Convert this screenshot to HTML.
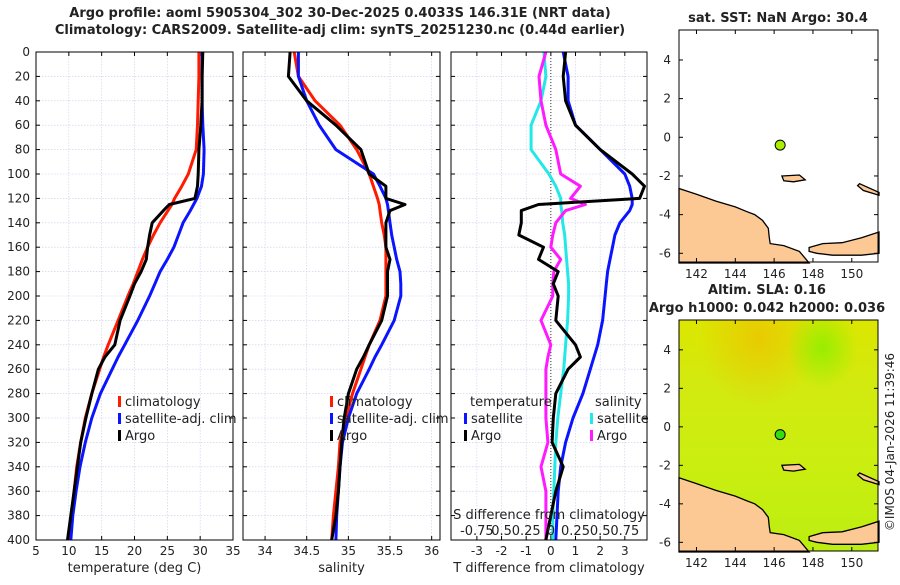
<!DOCTYPE html>
<html><head><meta charset="utf-8"><style>
body{margin:0;background:#fff;}
svg text{font-family:"DejaVu Sans","Liberation Sans",sans-serif;fill:#222;}
</style></head><body>
<svg id="c" width="900" height="580" viewBox="0 0 900 580" xmlns="http://www.w3.org/2000/svg">
<defs>
<linearGradient id="sla" x1="0" y1="0" x2="0" y2="1">
<stop offset="0" stop-color="#dce600"/><stop offset="0.3" stop-color="#d2ea10"/><stop offset="0.6" stop-color="#cbee10"/><stop offset="1" stop-color="#bcee10"/>
</linearGradient>
<radialGradient id="hot" cx="0.4" cy="0.08" r="0.3"><stop offset="0" stop-color="#f2b800" stop-opacity="0.6"/><stop offset="1" stop-color="#f2b800" stop-opacity="0"/></radialGradient>
<radialGradient id="grn" cx="0.72" cy="0.12" r="0.18"><stop offset="0" stop-color="#88ee00" stop-opacity="0.8"/><stop offset="1" stop-color="#88ee00" stop-opacity="0"/></radialGradient>
</defs>
<text x="340" y="17" text-anchor="middle" font-size="13" font-weight="bold">Argo profile: aoml 5905304_302 30-Dec-2025 0.4033S 146.31E (NRT data)</text>
<text x="340" y="34" text-anchor="middle" font-size="13" font-weight="bold">Climatology: CARS2009. Satellite-adj clim: synTS_20251230.nc (0.44d earlier)</text>
<g id="plots"></g>
<text x="890" y="442" text-anchor="middle" font-size="12" transform="rotate(-90 890 442)" dy="4">©IMOS 04-Jan-2026 11:39:46</text>
</svg>
<script>
// ---- data ----
const depths = [0,20,40,60,80,100,110,120,125,130,140,150,160,170,180,190,200,220,240,250,260,280,300,320,340,360,380,400];
const tempClim = [29.8,29.8,29.7,29.6,29.4,28.2,27.2,26.1,25.7,25.1,23.9,22.9,22.0,21.2,20.5,19.8,19.0,17.5,16.0,15.3,14.7,13.5,12.5,11.8,11.2,10.8,10.4,10.1];
const tempSat = [30.3,30.3,30.3,30.4,30.6,30.5,30.2,29.5,29.0,28.5,27.4,26.7,26.0,25.0,23.9,23.1,22.3,20.5,18.5,17.5,16.6,14.8,13.5,12.5,11.7,11.1,10.6,10.3];
const tempArgo = [30.4,30.3,30.3,30.1,29.8,29.7,29.6,29.2,25.3,24.4,22.7,22.3,22.0,21.8,21.0,20.0,19.3,17.8,17.0,15.5,14.5,13.5,12.6,11.8,11.3,10.8,10.3,9.8];
const salClim = [34.35,34.4,34.6,34.9,35.1,35.25,35.3,35.35,35.37,35.38,35.4,35.43,35.45,35.45,35.45,35.45,35.45,35.38,35.25,35.2,35.15,35.05,34.97,34.9,34.88,34.85,34.82,34.8];
const salSat = [34.4,34.4,34.5,34.65,34.85,35.3,35.38,35.45,35.47,35.48,35.5,35.52,35.55,35.58,35.62,35.63,35.63,35.55,35.4,35.32,35.25,35.1,35.0,34.93,34.9,34.88,34.86,34.85];
const salArgo = [34.3,34.28,34.5,34.85,35.15,35.25,35.45,35.45,35.68,35.5,35.45,35.45,35.45,35.5,35.47,35.47,35.47,35.4,35.25,35.18,35.1,35.0,34.95,34.92,34.9,34.88,34.85,34.8];
const dTSat = [0.5,0.7,0.7,1.0,2.0,3.0,3.2,3.3,3.3,3.2,2.8,2.6,2.5,2.4,2.3,2.25,2.2,2.1,1.9,1.75,1.6,1.3,0.9,0.6,0.4,0.3,0.25,0.2];
const dTArgo = [0.6,0.5,0.6,1.0,2.0,3.3,3.8,3.6,-0.5,-1.2,-1.2,-1.3,-0.3,-0.5,0.3,0.1,0.3,0.2,1.0,1.2,0.7,0.2,0.1,0.05,0.5,0.2,0.0,-0.2];
const dSSat = [-0.07,-0.05,-0.1,-0.2,-0.2,-0.02,0.05,0.1,0.1,0.11,0.12,0.14,0.15,0.16,0.17,0.18,0.18,0.17,0.15,0.14,0.13,0.1,0.07,0.05,0.04,0.03,0.02,0.02];
const dSArgo = [-0.05,-0.12,-0.1,-0.05,0.05,0.1,0.3,0.2,0.35,0.15,0.05,0.02,0.0,0.1,0.03,0.02,0.02,-0.1,0.0,-0.03,-0.05,-0.05,-0.05,-0.03,-0.1,-0.05,-0.05,-0.05];
const depthTicks = [0,20,40,60,80,100,120,140,160,180,200,220,240,260,280,300,320,340,360,380,400];
const tTicks = [5,10,15,20,25,30,35];
const sTicks = [34,34.5,35,35.5,36];
const dTTicks = [-3,-2,-1,0,1,2,3];
const dSTickLabels = ["-0.75","0.5","0.25","0","0.25","0.5","0.75"];
const dSTickVals = [-0.75,-0.5,-0.25,0,0.25,0.5,0.75];
const argoLon = 146.31, argoLat = -0.4033;

const NS="http://www.w3.org/2000/svg";
const root=document.getElementById('plots');
function mk(tag,attrs,parent){const e=document.createElementNS(NS,tag);for(const k in attrs)e.setAttribute(k,attrs[k]);(parent||root).appendChild(e);return e;}
const yTop=52,yBot=540;
function yD(d){return yTop+(d/400)*(yBot-yTop);}

function panel(x0,x1,xmin,xmax,xticks,xlabels,xtitle,name){
  const g=mk('g',{});
  
  
  const sx=v=>x0+(v-xmin)/(xmax-xmin)*(x1-x0);
  mk('rect',{x:x0,y:yTop,width:x1-x0,height:yBot-yTop,fill:'#fff'},g);
  depthTicks.forEach(d=>{mk('line',{x1:x0,x2:x1,y1:yD(d),y2:yD(d),stroke:'#c8cce8','stroke-width':0.6,'stroke-dasharray':'1.5 1.5'},g);});
  xticks.forEach(v=>{mk('line',{x1:sx(v),x2:sx(v),y1:yTop,y2:yBot,stroke:'#c8cce8','stroke-width':0.6,'stroke-dasharray':'1.5 1.5'},g);});
  depthTicks.forEach(d=>{mk('line',{x1:x0,x2:x0+4,y1:yD(d),y2:yD(d),stroke:'#000'},g);mk('line',{x1:x1-4,x2:x1,y1:yD(d),y2:yD(d),stroke:'#000'},g);});
  xticks.forEach((v,i)=>{mk('line',{x1:sx(v),x2:sx(v),y1:yBot,y2:yBot-4,stroke:'#000'},g);mk('line',{x1:sx(v),x2:sx(v),y1:yTop,y2:yTop+4,stroke:'#000'},g);
    const t=mk('text',{x:sx(v),y:yBot+15,'text-anchor':'middle','font-size':12},g);t.textContent=xlabels[i];});
  const tt=mk('text',{x:(x0+x1)/2,y:yBot+32,'text-anchor':'middle','font-size':13},g);tt.textContent=xtitle;
  return {g,sx};
}
function frame(g,x0,x1){mk('rect',{x:x0,y:yTop,width:x1-x0,height:yBot-yTop,fill:'none',stroke:'#000','stroke-width':1},g);}
function line(g,sx,vals,color,name,w){
  const pts=vals.map((v,i)=>sx(v).toFixed(1)+','+yD(depths[i]).toFixed(1)).join(' ');
  const p=mk('polyline',{points:pts,fill:'none',stroke:color,'stroke-width':w||3,'stroke-linejoin':'round'},g);
  
  
}
function leg(g,x,y,color,label,name){
  mk('rect',{x:x,y:y-9,width:3,height:11,fill:color},g);
  const t=mk('text',{x:x+7,y:y+1,'font-size':13},g);t.textContent=label;
  
  
}

// panel 1
const p1=panel(36,233,5,35,tTicks,tTicks.map(String),'temperature (deg C)','temperature-panel');
depthTicks.forEach(d=>{const t=mk('text',{x:30,y:yD(d)+4,'text-anchor':'end','font-size':12},p1.g);t.textContent=d;});
line(p1.g,p1.sx,tempClim,'#ff1a00','temp-climatology-line');
line(p1.g,p1.sx,tempSat,'#0a14ff','temp-satellite-line');
line(p1.g,p1.sx,tempArgo,'#000','temp-argo-line');
leg(p1.g,118,405,'#ff1a00','climatology','legend-climatology');
leg(p1.g,118,422,'#0a14ff','satellite-adj. clim','legend-satellite');
leg(p1.g,118,439,'#000','Argo','legend-argo');
frame(p1.g,36,233);

// panel 2
const p2=panel(243,440,33.735,36.1,sTicks,sTicks.map(String),'salinity','salinity-panel');
line(p2.g,p2.sx,salClim,'#ff1a00','sal-climatology-line');
line(p2.g,p2.sx,salSat,'#0a14ff','sal-satellite-line');
line(p2.g,p2.sx,salArgo,'#000','sal-argo-line');
leg(p2.g,330,405,'#ff1a00','climatology','legend-climatology-2');
leg(p2.g,330,422,'#0a14ff','satellite-adj. clim','legend-satellite-2');
leg(p2.g,330,439,'#000','Argo','legend-argo-2');
frame(p2.g,243,440);

// panel 3
const p3=panel(451,647,-4.05,3.9,dTTicks,dTTicks.map(String),'T difference from climatology','difference-panel');
const sxS=v=>p3.sx(v*4);
mk('line',{x1:p3.sx(0),x2:p3.sx(0),y1:yTop,y2:yBot,stroke:'#333','stroke-width':1,'stroke-dasharray':'1 2'},p3.g);
line(p3.g,p3.sx,dTSat,'#0a14ff','dT-satellite-line');
line(p3.g,sxS,dSSat,'#22e8e8','dS-satellite-line');
line(p3.g,sxS,dSArgo,'#ff1aff','dS-argo-line');
line(p3.g,p3.sx,dTArgo,'#000','dT-argo-line');
let t=mk('text',{x:470,y:406,'font-size':13},p3.g);t.textContent='temperature';
t=mk('text',{x:595,y:406,'font-size':13},p3.g);t.textContent='salinity';
leg(p3.g,464,422,'#0a14ff','satellite','legend-dT-satellite');
leg(p3.g,464,439,'#000','Argo','legend-dT-argo');
leg(p3.g,590,422,'#22e8e8','satellite','legend-dS-satellite');
leg(p3.g,590,439,'#ff1aff','Argo','legend-dS-argo');
t=mk('text',{x:549,y:519,'text-anchor':'middle','font-size':13},p3.g);t.textContent='S difference from climatology';
dSTickVals.forEach((v,i)=>{const tx=mk('text',{x:sxS(v),y:535,'text-anchor':'middle','font-size':13},p3.g);tx.textContent=dSTickLabels[i];});
frame(p3.g,451,647);

// maps
const mainland=[[141.1,-2.65],[142,-2.95],[143,-3.3],[144,-3.6],[144.6,-3.85],[145,-4.0],[145.4,-4.3],[145.7,-4.7],[145.75,-5.2],[145.8,-5.5],[146.5,-5.6],[147.3,-5.9],[147.8,-6.5],[141.1,-6.5]];
const newBritain=[[147.8,-5.7],[148.5,-5.5],[149.5,-5.45],[150.5,-5.2],[151.4,-4.9],[151.4,-6.0],[150.5,-6.1],[149,-6.1],[148.2,-6.0],[147.8,-5.9]];
const newIreland=[[150.4,-2.4],[151.4,-2.85],[151.4,-3.0],[150.6,-2.75],[150.3,-2.5]];
const manus=[[146.4,-2.0],[147.3,-1.95],[147.6,-2.2],[147.0,-2.3],[146.5,-2.25]];
const lonTicks=[142,144,146,148,150], latTicks=[4,2,0,-2,-4,-6];
function map(y0,y1,title1,title2,sla,name){
  const x0=679,x1=878;
  const g=mk('g',{});
  
  
  const sx=v=>x0+(v-141.1)/(151.35-141.1)*(x1-x0);
  const sy=v=>y0+(5.55-v)/(5.55+6.45)*(y1-y0);
  mk('rect',{x:x0,y:y0,width:x1-x0,height:y1-y0,fill:sla?'url(#sla)':'#fff'},g);
  if(sla){mk('rect',{x:x0,y:y0,width:x1-x0,height:y1-y0,fill:'url(#hot)'},g);mk('rect',{x:x0,y:y0,width:x1-x0,height:y1-y0,fill:'url(#grn)'},g);}
  [mainland,newBritain,newIreland,manus].forEach(poly=>{
    mk('polygon',{points:poly.map(p=>sx(p[0]).toFixed(1)+','+sy(p[1]).toFixed(1)).join(' '),fill:'#fcc995',stroke:'#000','stroke-width':1.3},g);
  });
  lonTicks.forEach(v=>{mk('line',{x1:sx(v),x2:sx(v),y1:y1,y2:y1-4,stroke:'#000'},g);mk('line',{x1:sx(v),x2:sx(v),y1:y0,y2:y0+4,stroke:'#000'},g);
    const tx=mk('text',{x:sx(v),y:y1+16,'text-anchor':'middle','font-size':12},g);tx.textContent=v;});
  latTicks.forEach(v=>{mk('line',{x1:x0,x2:x0+4,y1:sy(v),y2:sy(v),stroke:'#000'},g);mk('line',{x1:x1-4,x2:x1,y1:sy(v),y2:sy(v),stroke:'#000'},g);
    const tx=mk('text',{x:x0-8,y:sy(v)+4,'text-anchor':'end','font-size':12},g);tx.textContent=v;});
  const c=mk('circle',{cx:sx(argoLon),cy:sy(argoLat),r:5,fill:sla?'#33dd11':'#aaee00',stroke:'#000','stroke-width':1},g);
  
  
  mk('rect',{x:x0,y:y0,width:x1-x0,height:y1-y0,fill:'none',stroke:'#000'},g);
  if(title2){
    const a=mk('text',{x:767,y:y0-26,'text-anchor':'middle','font-size':13,'font-weight':'bold'},g);a.textContent=title1;
    const b=mk('text',{x:767,y:y0-8,'text-anchor':'middle','font-size':13,'font-weight':'bold'},g);b.textContent=title2;
  } else {
    const a=mk('text',{x:778,y:y0-8,'text-anchor':'middle','font-size':13,'font-weight':'bold'},g);a.textContent=title1;
  }
}
map(30,262,'sat. SST: NaN Argo: 30.4',null,false,'sst-map');
map(320,551,'Altim. SLA: 0.16','Argo h1000: 0.042 h2000: 0.036',true,'sla-map');
</script>
</body></html>
